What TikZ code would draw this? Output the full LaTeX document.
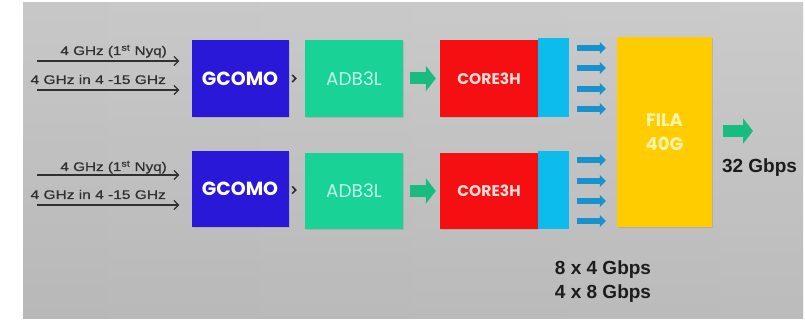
\documentclass[tikz,border=0pt]{standalone}
\usepackage{fontspec}
\setmainfont{Liberation Sans}
\newfontfamily\geo{Poppins}
\newfontfamily\inputfont{Liberation Sans}[FakeBold=0.6]
\usetikzlibrary{arrows.meta,shadows}

\definecolor{gcomoblue}{RGB}{42,24,216}
\definecolor{adbgreen}{RGB}{24,210,150}
\definecolor{adbtext}{RGB}{195,250,232}
\definecolor{corered}{RGB}{245,14,18}
\definecolor{coretext}{RGB}{255,222,214}
\definecolor{stripcyan}{RGB}{12,188,236}
\definecolor{filayellow}{RGB}{255,204,0}
\definecolor{filatext}{RGB}{255,244,170}
\definecolor{fatgreen}{RGB}{24,188,128}
\definecolor{busblue}{RGB}{22,146,206}
\definecolor{inkgray}{RGB}{48,48,48}
\definecolor{labelink}{RGB}{28,28,28}

\begin{document}
\begin{tikzpicture}[x=1pt,y=-1pt,
  block/.style={draw=none, inner sep=0pt, minimum width=97pt, minimum height=77pt,
    drop shadow={opacity=0.25, shadow xshift=1pt, shadow yshift=-1.5pt}},
  gcomo/.style={block, fill=gcomoblue, text=white, font=\geo\bfseries\fontsize{19}{20}\selectfont},
  adb/.style={block, fill=adbgreen, minimum width=98pt, text=adbtext, font=\geo\fontsize{18.5}{20}\selectfont},
  core/.style={block, fill=corered, minimum width=98pt, text=coretext, font=\geo\bfseries\fontsize{15.5}{18}\selectfont},
  strip/.style={draw=none, fill=stripcyan, inner sep=0pt, minimum width=31pt, minimum height=79pt},
  fila/.style={block, fill=filayellow, minimum width=95pt, minimum height=190pt, align=center,
    text=filatext, font=\geo\bfseries\fontsize{18}{24}\selectfont},
  intext/.style={inner sep=0pt, text=inkgray, font=\inputfont\fontsize{12.5}{14}\selectfont},
  inline/.style={draw=inkgray, line width=1.2pt, -{Straight Barb[length=4.5pt,width=9pt,line width=1.2pt]}},
  chev/.style={draw=inkgray, line width=1.5pt, -{Straight Barb[length=3.5pt,width=7pt]}},
  fatarrow/.style={draw=fatgreen, line width=12pt, -{Triangle[length=10pt,width=25pt]}},
  busarrow/.style={draw=busblue, line width=6.5pt, -{Triangle[length=6pt,width=12pt]}},
  rate/.style={inner sep=0pt, text=labelink, font=\bfseries\fontsize{19}{22}\selectfont}]

\useasboundingbox (0,0) rectangle (805,320);
% backdrop panel
\shade[left color=gray!62, middle color=white, right color=gray!58] (23,3) rectangle (803,318);
\shade[top color=white, bottom color=gray!40, opacity=0.3] (23,3) rectangle (803,318);

% upper channel
\node[gcomo] (g1) at (240,78.5) {GCOMO};
\node[adb]   (d1) at (354,78.5) {ADB3L};
\node[core]  (c1) at (489,78.5) {CORE3H};
\node[strip, anchor=south west] (s1) at (c1.south east) {};

% lower channel
\node[gcomo, minimum height=76pt] (g2) at (240,189) {GCOMO};
\node[adb,   minimum height=76pt] (d2) at (354,191) {ADB3L};
\node[core,  minimum height=76pt] (c2) at (489,191) {CORE3H};
\node[strip, anchor=south west, minimum height=78pt] (s2) at (c2.south east) {};

% combiner
\node[fila] (f) at (664.5,132) {FILA\\40G};

% input labels and lines
\node[intext, anchor=base east] (t1) at (167,55) {\scalebox{1.22}[1]{4 GHz (1\textsuperscript{st} Nyq)}};
\node[intext, anchor=base east] (t2) at (166,84) {\scalebox{1.24}[1]{4 GHz in 4 -15 GHz}};
\node[intext, anchor=base east] (t3) at (167,171) {\scalebox{1.22}[1]{4 GHz (1\textsuperscript{st} Nyq)}};
\node[intext, anchor=base east] (t4) at (166,199) {\scalebox{1.24}[1]{4 GHz in 4 -15 GHz}};

\coordinate (i1) at (37,61);
\coordinate (i2) at (37,90);
\coordinate (i3) at (37,175);
\coordinate (i4) at (37,205);
\foreach \c/\g in {i1/g1, i2/g1, i3/g2, i4/g2}
  \draw[inline, shorten >=12pt] (\c) -- (\g.west |- \c);

% GCOMO -> ADB3L
\draw[chev, shorten <=5pt, shorten >=8pt] (g1) -- (d1);
\draw[chev, shorten <=5pt, shorten >=8pt] (g2.east |- 0,190) -- (d2.west |- 0,190);

% ADB3L -> CORE3H
\draw[fatarrow, shorten <=7pt, shorten >=4pt] (d1) -- (c1);
\draw[fatarrow, shorten <=7pt, shorten >=4pt] (d2) -- (c2);

% parallel lanes into FILA
\foreach \y in {48,68,89,109,160,181,201,221}
  \draw[busarrow, shorten <=7pt, shorten >=11pt] (s1.east |- 0,\y) -- (f.west |- 0,\y);

% output
\coordinate (out) at (753,131);
\draw[fatarrow, shorten <=11pt] (f.east |- out) -- (out);

% rates
\node[rate] (r1) at (759.5,168) {32 Gbps};
\node[rate] (r2) at (603,270) {8 x 4 Gbps};
\node[rate] (r3) at (603,294) {4 x 8 Gbps};
\end{tikzpicture}
\end{document}
